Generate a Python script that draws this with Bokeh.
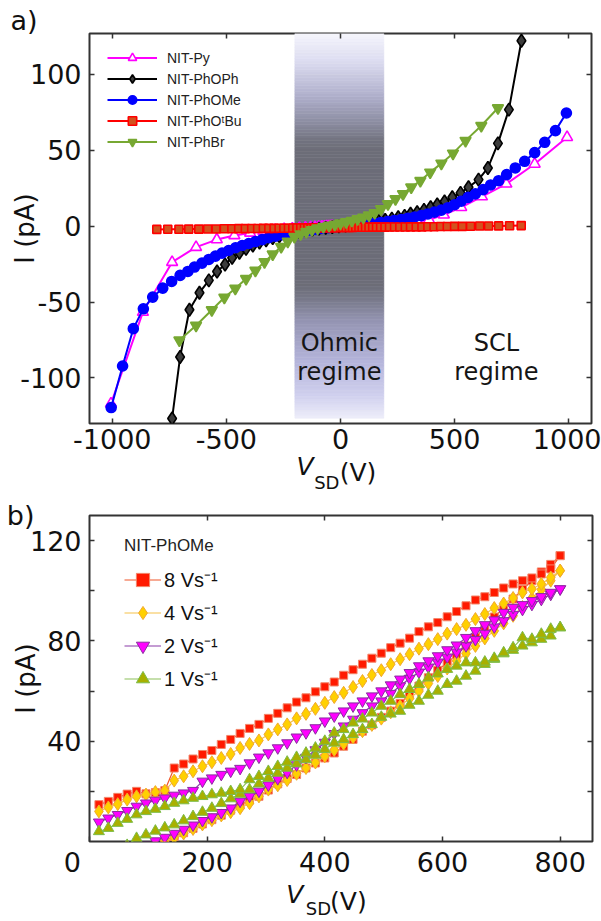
import numpy as np
from bokeh.plotting import figure
from bokeh.models import Range1d, FixedTicker, LinearAxis, Label, Legend, LegendItem, ColumnDataSource, Title
from bokeh.layouts import column
from bokeh.embed import file_html
from bokeh.resources import INLINE

# ---------------- Panel a data ----------------
py_v = [-1006, -866, -738, -633, -542, -465, -396, -338, -289, -247, -211, -180, -154, -131, -112, -96, -82, -70, -60, -51,
        -44, -37, 37, 44, 51, 60, 70, 82, 96, 112, 131, 154, 180, 211, 247, 289, 338, 388, 453, 529, 620, 727, 851, 993]
py_i = [-117, -56.6, -23.7, -13.8, -8.8, -6.1, -4.4, -3.3, -2.6, -2.0, -1.6, -1.3, -1.0, -0.8, -0.6, -0.5, -0.4, -0.3, -0.25, -0.2,
        -0.15, -0.1, 0.1, 0.15, 0.2, 0.25, 0.3, 0.4, 0.5, 0.6, 0.8, 1.0, 1.3, 1.6, 2.0, 2.6, 3.2, 4.3, 7.5, 12.5, 19.5, 27.9, 41, 58.6]

phoph_v = [-738, -703, -662, -618, -577, -541, -506, -475, -443, -414, -384, -355, -326, -297, -268, -239, -210, -181, -152, -123,
           -94, -65, -36, -7, 22, 51, 80, 109, 138, 167, 196, 225, 253, 281, 307, 336, 366, 395, 424, 456,
           490, 526, 561, 605, 646, 690, 738, 793]
phoph_i = [-126.7, -86.2, -55.0, -43.8, -35.7, -29.8, -25.2, -20.8, -17.5, -14.9, -12.7, -10.8, -9.2, -7.8, -6.6, -5.5, -4.5, -3.6, -2.9, -2.2,
           -1.6, -1.1, -0.6, -0.1, 0.4, 0.9, 1.4, 2.0, 2.6, 3.3, 4.1, 5.0, 5.9, 6.8, 8.2, 9.2, 10.8, 12.5, 14.3, 16.3,
           19.1, 22.0, 25.7, 30.7, 38.4, 54.6, 76.8, 122.2]

phome_v = [-1005, -955, -908, -864, -823, -779, -740, -703, -669, -640, -607, -577, -548, -519, -490, -460, -431, -402, -373, -343,
           -314, -285, -256, -227, -198, -169, -140, -111, -82, -53, -24, 5, 30, 59, 89, 118, 148, 177, 207, 236,
           266, 295, 325, 354, 383, 412, 442, 471, 500, 529, 559, 591, 625, 658, 693, 728, 766, 807, 851, 895, 942, 990]
phome_i = [-119.5, -92.1, -67.5, -54.4, -46.7, -40.8, -36.4, -32.4, -29.8, -26.9, -24.3, -21.9, -19.7, -17.7, -16.0, -14.2, -12.7, -11.4, -10.1, -8.8,
           -7.6, -6.6, -5.6, -4.7, -3.9, -3.2, -2.6, -2.0, -1.5, -1.0, -0.5, 0.0, 0.3, 0.7, 1.1, 1.5, 2.0, 2.5, 3.1, 3.7,
           4.4, 5.2, 6.1, 7.0, 8.1, 9.3, 10.6, 12.2, 14.2, 16.5, 19.0, 21.3, 24.1, 27.2, 30.0, 34.0, 38.4, 42.8, 48.5, 55.3, 63.0, 74.6]

photbu_v = [-805, -757, -708, -665, -621, -582, -545, -509, -476, -446, -417, -389, -363, -338, -314, -291, -269, -248, -228, -209,
            -191, -174, -158, -143, -129, -115, -101, -87, -73, -59, -45, -31, -17, -3, 11, 25, 39, 53, 67, 81,
            95, 110, 125, 141, 158, 176, 195, 215, 237, 260, 284, 307, 332, 357, 383, 410, 439, 468, 500, 534,
            570, 610, 649, 693, 741, 792]
photbu_i = [-2.1, -2.0, -2.0, -1.9, -1.9, -1.8, -1.8, -1.7, -1.7, -1.6, -1.6, -1.5, -1.5, -1.4, -1.4, -1.4, -1.3, -1.3, -1.3, -1.2,
            -1.2, -1.2, -1.1, -1.1, -1.1, -1.0, -1.0, -1.0, -1.0, -0.9, -0.9, -0.9, -0.9, -0.8, -0.8, -0.8, -0.8, -0.8, -0.7, -0.7,
            -0.7, -0.7, -0.7, -0.6, -0.6, -0.6, -0.6, -0.5, -0.5, -0.5, -0.5, -0.4, -0.4, -0.4, -0.3, -0.3, -0.2, -0.2, -0.1, -0.1,
            0.0, 0.1, 0.1, 0.2, 0.3, 0.4]

phbr_v = [-706, -633, -564, -509, -461, -414, -373, -333, -297, -260, -231, -202, -175, -150, -125, -100, -75, -50, -25, 0,
          25, 50, 75, 100, 125, 150, 178, 208, 241, 274, 310, 350, 393, 442, 493, 548, 617, 690]
phbr_i = [-75.2, -65.4, -55.2, -47.0, -41.0, -34.6, -29.2, -23.5, -18.5, -13.5, -10.0, -7.0, -5.2, -3.7, -2.4, -1.3, -0.3, 0.5, 1.2, 2.0,
          2.8, 3.7, 4.7, 5.8, 7.2, 8.8, 11.4, 14.7, 18.0, 21.3, 25.7, 30.0, 35.5, 41.4, 48.0, 56.4, 66.2, 77.9]

a_names = ["NIT-Py", "NIT-PhOPh", "NIT-PhOMe", "NIT-PhO\u1d57Bu", "NIT-PhBr"]
a_xticks = [-1000, -500, 0, 500, 1000]
a_yticks = [-100, -50, 0, 50, 100]
ohmic_left, ohmic_right = -200, 190

# ---------------- Panel b data ----------------
sweep_v = [16, 32, 48, 64, 80, 96, 112, 128, 144, 160, 176, 192, 208, 224, 240, 256, 272, 288, 304, 320,
           336, 352, 368, 384, 400, 416, 432, 448, 464, 480, 496, 512, 528, 544, 560, 576, 592, 608, 624, 640,
           656, 672, 688, 704, 720, 736, 752, 768, 784, 800]

up8 = [14.7, 16.0, 17.6, 18.9, 20.0, 19.0, 19.5, 20.3, 29.3, 30.9, 32.9, 34.7, 36.3, 38.7, 40.7, 43.1, 45.1, 46.7, 49.1, 51.1,
       53.3, 55.6, 57.3, 59.7, 61.7, 63.6, 66.3, 68.5, 70.7, 73.1, 75.1, 77.3, 79.1, 81.1, 83.7, 85.6, 87.3, 89.6, 91.7, 94.0,
       96.3, 97.6, 99.3, 101.1, 102.7, 104.0, 105.1, 106.7, 108.7, 114.0]
dn8 = [-14, -12, -10, -8, -6, -4, -2, 0.3, 2.0, 3.5, 5.2, 7.0, 8.7, 10.5, 12.5, 14.5, 16.5, 18.0, 20.5, 23.0,
       25.1, 26.7, 29.3, 31.3, 33.3, 35.3, 38.0, 40.7, 44.0, 46.5, 49.5, 52.0, 55.1, 58.7, 62.0, 65.3, 68.3, 71.3, 74.4, 78.0,
       81.3, 85.5, 89.5, 93.0, 96.7, 100.5, 104.0, 107.5, 110.5, 114.0]

up4 = [12.0, 13.6, 14.9, 16.7, 18.0, 18.7, 19.7, 20.3, 24.3, 26.0, 28.0, 30.0, 31.6, 33.3, 34.9, 37.3, 38.9, 40.3, 42.7, 44.7,
       46.7, 49.1, 50.9, 52.9, 55.3, 57.6, 59.3, 61.6, 64.0, 66.4, 68.3, 70.7, 72.7, 74.7, 76.9, 78.7, 80.7, 82.9, 84.7, 86.4,
       88.7, 90.7, 93.1, 94.9, 97.1, 99.3, 100.7, 102.7, 105.3, 108.0]
dn4 = [-15, -13, -11, -9, -7, -5, -1.5, 0.2, 1.5, 3.2, 5.0, 6.8, 8.5, 10.4, 11.7, 13.3, 15.3, 18.0, 20.7, 22.4,
       24.5, 27.0, 29.3, 31.5, 34.0, 36.5, 39.0, 41.5, 44.0, 46.5, 49.0, 51.5, 54.0, 57.0, 60.0, 63.0, 66.0, 69.0, 72.0, 75.0,
       78.0, 81.0, 84.0, 87.0, 90.0, 93.5, 97.0, 100.5, 104.0, 108.0]

up2 = [7.7, 9.3, 10.7, 12.3, 14.0, 15.3, 16.4, 17.3, 18.4, 19.3, 20.3, 24.0, 25.3, 26.7, 28.0, 29.1, 31.3, 33.6, 35.3, 37.3,
       39.3, 41.6, 43.3, 45.3, 48.0, 50.0, 52.0, 54.0, 56.0, 58.0, 60.0, 62.4, 64.7, 67.3, 70.0, 72.0, 74.0, 76.4, 78.3, 81.3,
       84.0, 86.4, 88.3, 91.3, 93.3, 94.4, 96.0, 97.6, 99.3, 100.7]
dn2 = [-10, -8.5, -7, -5.5, -4, -1.5, 0.2, 1.6, 3.2, 4.8, 6.5, 8.3, 9.8, 11.5, 13.3, 16.0, 18.0, 20.0, 22.5, 25.0,
       27.5, 30.5, 33.5, 36.5, 39.5, 43.0, 46.0, 48.7, 51.3, 54.0, 56.0, 59.0, 62.0, 65.0, 67.5, 69.5, 71.5, 73.5, 75.5, 78.0,
       80.5, 83.0, 85.5, 88.0, 90.5, 92.5, 94.5, 96.5, 98.5, 100.7]

up1 = [4.0, 5.3, 7.3, 8.9, 10.7, 12.0, 12.9, 14.0, 15.3, 16.3, 17.3, 18.0, 18.7, 19.3, 20.0, 20.7, 24.7, 26.0, 28.0, 30.0,
       31.7, 33.6, 35.3, 37.3, 40.0, 43.3, 44.7, 47.3, 48.9, 51.3, 54.0, 56.0, 58.7, 60.7, 62.7, 65.3, 66.9, 68.7, 70.0, 71.3,
       71.3, 71.6, 73.1, 75.3, 77.3, 81.3, 80.7, 82.7, 84.7, 85.3]
dn1 = [-8, -6, -4, -1.5, 1.3, 2.7, 4.2, 5.5, 6.7, 8.3, 10.0, 11.7, 13.3, 15.2, 17.1, 18.9, 20.7, 23.0, 25.3, 27.3,
       29.3, 31.0, 32.7, 34.5, 36.8, 39.3, 40.7, 42.7, 44.7, 46.7, 49.6, 50.9, 52.0, 54.4, 56.0, 58.4, 60.0, 62.7, 64.0, 66.0,
       68.0, 70.7, 72.7, 74.9, 76.3, 78.0, 79.3, 80.7, 82.0, 85.3]

b_names = ["8 Vs\u207b\u00b9", "4 Vs\u207b\u00b9", "2 Vs\u207b\u00b9", "1 Vs\u207b\u00b9"]
b_title = "NIT-PhOMe"
b_xticks = [0, 200, 400, 600, 800]
b_xlabels = {0: "0\u00a0\u00a0\u00a0\u00a0", 200: "200", 400: "400", 600: "600", 800: "800"}
b_yticks = [20, 40, 60, 80, 100, 120]
b_ylabels = {20: "", 40: "40", 60: "", 80: "80", 100: "", 120: "120"}

TICK_FONT = "DejaVu Sans"
FRAME = "#333333"
INK = "#111111"


def style(p, xticks, yticks, xover=None, yover=None, top_ticks=None):
    p.xgrid.visible = False
    p.ygrid.visible = False
    p.outline_line_color = FRAME
    p.outline_line_width = 2
    p.background_fill_color = "white"
    p.border_fill_color = "white"
    p.xaxis.ticker = FixedTicker(ticks=xticks)
    p.yaxis.ticker = FixedTicker(ticks=yticks)
    for ax in (p.xaxis[0], p.yaxis[0]):
        ax.axis_line_color = None
        ax.major_tick_in = 5
        ax.major_tick_out = 0
        ax.minor_tick_line_color = None
        ax.major_tick_line_color = FRAME
        ax.major_tick_line_width = 1.5
        ax.major_label_text_font = TICK_FONT
        ax.major_label_text_font_size = "27px"
        ax.major_label_text_color = INK
    p.yaxis.major_label_standoff = 8
    p.xaxis.major_label_overrides = xover if xover else {t: str(t) for t in xticks}
    p.yaxis.major_label_overrides = yover if yover else {t: str(t) for t in yticks}
    for loc, tk in (("above", top_ticks or xticks), ("right", yticks)):
        ax = LinearAxis(ticker=FixedTicker(ticks=tk))
        ax.axis_line_color = None
        ax.major_tick_in = 5
        ax.major_tick_out = 0
        ax.minor_tick_line_color = None
        ax.major_tick_line_color = FRAME
        ax.major_tick_line_width = 1.5
        ax.major_label_overrides = {t: "" for t in tk}
        ax.major_label_text_font_size = "1px"
        ax.major_label_standoff = 0
        p.add_layout(ax, loc)


def ylabel(p, standoff):
    ax = p.yaxis[0]
    ax.axis_label = "I (pA)"
    ax.axis_label_standoff = standoff
    ax.axis_label_text_font = TICK_FONT
    ax.axis_label_text_font_size = "26px"
    ax.axis_label_text_font_style = "normal"
    ax.axis_label_text_color = INK


def text_axis(p, side, pos, text, size, style_, standoff):
    # an axis without line or ticks, used only to carry one piece of text outside the frame
    ax = LinearAxis(ticker=FixedTicker(ticks=[pos]), major_label_overrides={pos: text})
    ax.axis_line_color = None
    ax.major_tick_in = 0
    ax.major_tick_out = 0
    ax.major_tick_line_color = None
    ax.minor_tick_line_color = None
    ax.major_label_standoff = standoff
    ax.major_label_text_font = TICK_FONT
    ax.major_label_text_font_size = "%dpx" % size
    ax.major_label_text_font_style = style_
    ax.major_label_text_color = INK
    p.add_layout(ax, side)


def panel_title(text, offset, standoff):
    kw = dict(text=text, align="left", offset=offset, vertical_align="bottom", text_font=TICK_FONT,
              text_font_size="27px", text_font_style="normal", text_color=INK)
    try:
        return Title(standoff=standoff, **kw)
    except Exception:
        return Title(standoff=0, **kw)


# ================= Panel a =================
pa = figure(frame_width=502, frame_height=390, x_range=Range1d(-1100, 1100), y_range=Range1d(-130, 127),
            output_backend="svg", toolbar_location=None,
            min_border_left=89, min_border_right=10, min_border_top=33, min_border_bottom=71)
style(pa, a_xticks, a_yticks)
pa.xaxis[0].major_label_standoff = 18
ylabel(pa, -23)
pa.title = panel_title("a)", -79, -4)

# Ohmic-regime gradient band (styling only)
stop_i = [-126.5, -111.4, -88.4, -62.0, -48.9, -39.0, 49.8, 56.4, 69.5, 86.0, 109.0, 127.0]
stop_c = ["#eeeefa", "#d0d0ee", "#b4b4da", "#9494b2", "#7a7b8c", "#6c6d78", "#6c6d78", "#72737f", "#8e8fa4",
          "#b0b0cc", "#dcdcf0", "#f6f6fd"]
rgb = np.array([[int(c[k:k + 2], 16) for k in (1, 3, 5)] for c in stop_c], dtype=float)
edges = np.linspace(-126.5, 127.0, 141)
mids = 0.5 * (edges[:-1] + edges[1:])
cols = []
for m in mids:
    r, g, b = (int(round(np.interp(m, stop_i, rgb[:, k]))) for k in range(3))
    cols.append("#%02x%02x%02x" % (r, g, b))
pa.quad(left=ohmic_left, right=ohmic_right, bottom=edges[:-1], top=edges[1:], fill_color=cols,
        line_color=cols, line_width=0.6)

a_series = [
    (py_v, py_i, "#ff00ff", "triangle", 11, "white", "#ff00ff"),
    (phoph_v, phoph_i, "#000000", "diamond", 13, "#3c3c3c", "#000000"),
    (phome_v, phome_i, "#0000ff", "circle", 10, "#0000ff", "#0000ff"),
    (photbu_v, photbu_i, "#ff0000", "square", 8, "#d2521e", "#ff0000"),
    (phbr_v, phbr_i, "#77a832", "inverted_triangle", 11, "#77a832", "#77a832"),
]
a_items = []
for name, (xv, yv, lc, mk, sz, fc, ec) in zip(a_names, a_series):
    src = ColumnDataSource(dict(x=xv, y=yv))
    lr = pa.line("x", "y", source=src, line_color=lc, line_width=2)
    sr = pa.scatter("x", "y", source=src, marker=mk, size=sz, fill_color=fc, line_color=ec, line_width=1.6)
    a_items.append(LegendItem(label=name, renderers=[lr, sr]))

leg_a = Legend(items=a_items, location=(18, 271), glyph_width=50, glyph_height=21, label_height=21,
               spacing=0, padding=0, margin=0, label_standoff=10, border_line_color=None,
               background_fill_alpha=0, label_text_font="Liberation Sans", label_text_font_size="14px",
               label_text_color="#222222")
pa.add_layout(leg_a)

for txt, xv, yv in (("Ohmic", -5, -77), ("regime", -5, -96), ("SCL", 683, -77), ("regime", 683, -96)):
    pa.add_layout(Label(x=xv, y=yv, text=txt, text_align="center", text_baseline="middle",
                        text_font="DejaVu Sans", text_font_size="24px", text_color="#151515"))

# x-axis title  V_SD (V): pieces carried by tick labels of bare axes
text_axis(pa, "below", -155, "V", 25, "italic", 0)
text_axis(pa, "below", -60, "SD", 18, "normal", -12)
text_axis(pa, "below", 77, "(V)", 25, "normal", -38)
text_axis(pa, "below", 0, "\u00a0", 1, "normal", -30)

# ================= Panel b =================
pb = figure(frame_width=503, frame_height=326, x_range=Range1d(0, 855), y_range=Range1d(0, 130),
            output_backend="svg", toolbar_location=None,
            min_border_left=88, min_border_right=10, min_border_top=20, min_border_bottom=81)
style(pb, b_xticks, b_yticks, xover=b_xlabels, yover=b_ylabels, top_ticks=[200, 400, 600, 800])
pb.xaxis[0].major_label_standoff = 15
ylabel(pb, -14)
text_axis(pb, "left", 130, "b)", 27, "normal", -27)

b_series = [
    (up8, dn8, "square", 8, "#ff1a00", "#f3866a", "#f0562a"),
    (up4, dn4, "diamond", 13, "#ffd000", "#f0a830", "#f5c24a"),
    (up2, dn2, "inverted_triangle", 11, "#ff00ff", "#8a2ca0", "#8a3aa8"),
    (up1, dn1, "triangle", 11, "#a8b000", "#7cbc48", "#8cc05a"),
]
b_items = []
for name, (up, dn, mk, sz, fc, ec, lc) in zip(b_names, b_series):
    xv = list(sweep_v) + list(sweep_v[::-1])
    yv = list(dn) + list(up[::-1])
    src = ColumnDataSource(dict(x=xv, y=yv))
    lr = pb.line("x", "y", source=src, line_color=lc, line_width=1.2)
    sr = pb.scatter("x", "y", source=src, marker=mk, size=sz, fill_color=fc, line_color=ec, line_width=1)
    b_items.append(LegendItem(label=name, renderers=[lr, sr]))

leg_b = Legend(items=b_items, location=(35, 146), title=b_title, title_text_font="Liberation Sans",
               title_text_font_size="17px", title_text_font_style="normal", title_text_color="#222222",
               title_standoff=7, glyph_width=37, glyph_height=33, label_height=33, spacing=0, padding=0,
               margin=0, label_standoff=3, border_line_color=None, background_fill_alpha=0,
               label_text_font="Liberation Sans", label_text_font_size="20px", label_text_color=INK)
pb.add_layout(leg_b)

text_axis(pb, "below", 349, "V", 25, "italic", -1)
text_axis(pb, "below", 389, "SD", 18, "normal", -14)
text_axis(pb, "below", 440, "(V)", 25, "normal", -35)
text_axis(pb, "below", 400, "\u00a0", 1, "normal", -30)

layout = column(pa, pb, spacing=0)
open("out.html", "w").write(file_html(layout, INLINE, "IV curves"))
